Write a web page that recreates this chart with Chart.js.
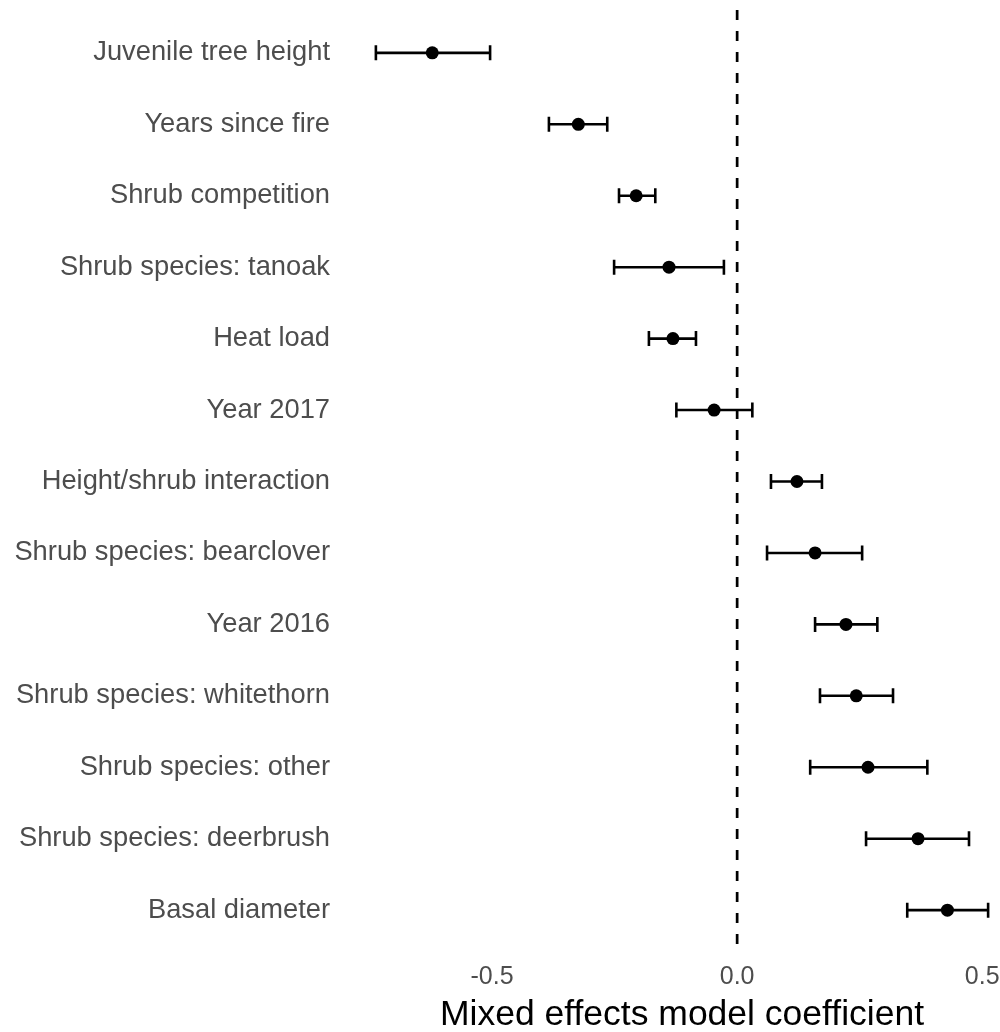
<!DOCTYPE html>
<html lang="en">
<head>
  <meta charset="UTF-8">
  <title>Mixed effects model coefficients</title>
  <script src="https://cdn.jsdelivr.net/npm/chart.js"></script>
  <style>
    html, body {
      margin: 0;
      padding: 0;
      background: #fff;
      overflow: hidden;
    }
    #wrap {
      width: 1019px;
      height: 1032px;
    }
  </style>
</head>
<body>
<div id="wrap"><canvas id="chart"></canvas></div>

<script>
const predictors = [
  "Juvenile tree height",
  "Years since fire",
  "Shrub competition",
  "Shrub species: tanoak",
  "Heat load",
  "Year 2017",
  "Height/shrub interaction",
  "Shrub species: bearclover",
  "Year 2016",
  "Shrub species: whitethorn",
  "Shrub species: other",
  "Shrub species: deerbrush",
  "Basal diameter"
];
const estimates = [-0.622, -0.324, -0.206, -0.139, -0.131, -0.047, 0.122, 0.159, 0.222, 0.243, 0.267, 0.369, 0.429];
const lowerCI   = [-0.737, -0.384, -0.241, -0.251, -0.180, -0.124, 0.069, 0.061, 0.159, 0.169, 0.149, 0.263, 0.347];
const upperCI   = [-0.504, -0.265, -0.167, -0.027, -0.084, 0.031, 0.173, 0.255, 0.286, 0.318, 0.388, 0.473, 0.512];
const xTicks = [-0.5, 0, 0.5];

const FONT = "Liberation Sans, Arial, sans-serif";

// whiskers + dashed zero line
const errorBars = {
  id: "errorBars",
  beforeDatasetsDraw(chart) {
    const ctx = chart.ctx;
    const xs = chart.scales.x, ys = chart.scales.y;
    const area = chart.chartArea;
    ctx.save();
    ctx.strokeStyle = "#000";
    ctx.lineWidth = 2.7;
    ctx.setLineDash([10, 11]);
    const x0 = xs.getPixelForValue(0);
    ctx.beginPath();
    ctx.moveTo(x0, area.top);
    ctx.lineTo(x0, area.bottom);
    ctx.stroke();
    ctx.setLineDash([]);
    ctx.lineWidth = 2.6;
    predictors.forEach((p, i) => {
      const y = ys.getPixelForValue(i);
      const xl = xs.getPixelForValue(lowerCI[i]);
      const xr = xs.getPixelForValue(upperCI[i]);
      ctx.beginPath();
      ctx.moveTo(xl, y); ctx.lineTo(xr, y);
      ctx.moveTo(xl, y - 7.5); ctx.lineTo(xl, y + 7.5);
      ctx.moveTo(xr, y - 7.5); ctx.lineTo(xr, y + 7.5);
      ctx.stroke();
    });
    ctx.restore();
  }
};

new Chart(document.getElementById("chart"), {
  type: "scatter",
  data: {
    datasets: [{
      data: estimates.map((v, i) => ({ x: v, y: i })),
      backgroundColor: "#000",
      borderColor: "#000",
      borderWidth: 0,
      pointRadius: 6.5,
      pointHoverRadius: 6.5
    }]
  },
  options: {
    responsive: true,
    maintainAspectRatio: false,
    animation: false,
    layout: { autoPadding: false, padding: { top: 10, right: 0, bottom: 0, left: 0 } },
    plugins: {
      legend: { display: false },
      tooltip: { enabled: false }
    },
    scales: {
      x: {
        type: "linear",
        min: -0.8,
        max: 0.575,
        afterBuildTicks: s => { s.ticks = xTicks.map(v => ({ value: v })); },
        afterFit: s => { s.height = 79; s.paddingLeft = 0; s.paddingRight = 0; },
        grid: { display: false, drawTicks: false },
        border: { display: false },
        ticks: {
          padding: 9,
          color: "#4d4d4d",
          font: { family: FONT, size: 25 },
          callback: v => v.toFixed(1)
        },
        title: {
          display: true,
          text: "Mixed effects model coefficient",
          color: "#000",
          padding: { top: 0, bottom: -5 },
          font: { family: FONT, size: 35.5 }
        }
      },
      y: {
        type: "linear",
        reverse: true,
        min: -0.6,
        max: predictors.length - 0.4,
        afterBuildTicks: s => { s.ticks = predictors.map((p, i) => ({ value: i })); },
        afterFit: s => { s.width = 345; s.paddingTop = 0; s.paddingBottom = 0; },
        grid: { display: false, drawTicks: false },
        border: { display: false },
        ticks: {
          padding: 15,
          color: "#4d4d4d",
          font: { family: FONT, size: 27.3 },
          callback: v => predictors[v]
        }
      }
    }
  },
  plugins: [errorBars]
});
</script>
</body>
</html>
